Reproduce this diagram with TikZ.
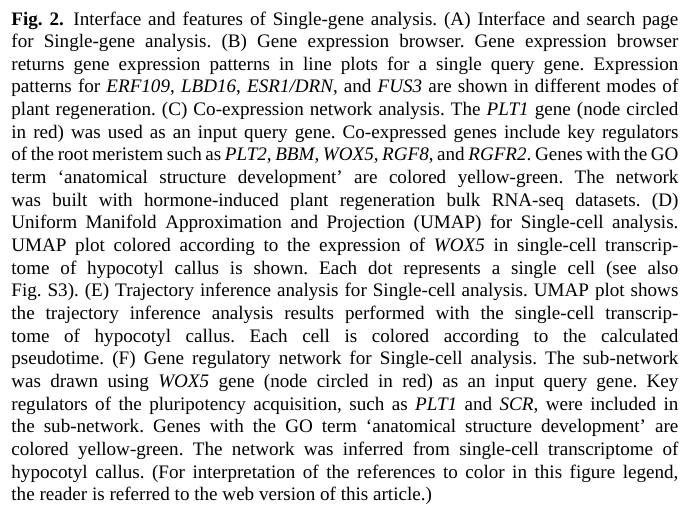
\documentclass[tikz,border=0pt]{standalone}
\usepackage{fontspec}
\setmainfont{Liberation Serif}
\usetikzlibrary{positioning}

\tikzset{
  captext/.style={anchor=base west,inner sep=0pt,text width=333.5pt,align=justify,
    font=\fontsize{9.55pt}{11.33pt}\selectfont}
}

\begin{document}
\begin{tikzpicture}
  \hbadness=10000 \frenchspacing
  \useasboundingbox[fill=white] (0,0) rectangle (341.5pt,255.5pt);
  \node[captext] (caption) at (5.5pt,243pt) {%
    \textbf{Fig. 2.}\enspace Interface and features of Single-gene analysis. (A) Interface and search page\linebreak
    for Single-gene analysis. (B) Gene expression browser. Gene expression browser\linebreak
    returns gene expression patterns in line plots for a single query gene. Expression\linebreak
    patterns for \textit{ERF109}, \textit{LBD16}, \textit{ESR1/DRN}, and \textit{FUS3} are shown in different modes of\linebreak
    plant regeneration. (C) Co-expression network analysis. The \textit{PLT1} gene (node circled\linebreak
    in red) was used as an input query gene. Co-expressed genes include key regulators\linebreak
    of the root meristem such as \textit{PLT2}, \textit{BBM}, \textit{WOX5}, \textit{RGF8}, and \textit{RGFR2}. Genes with the GO\linebreak
    term ‘anatomical structure development’ are colored yellow-green. The network\linebreak
    was built with hormone-induced plant regeneration bulk RNA-seq datasets. (D)\linebreak
    Uniform Manifold Approximation and Projection (UMAP) for Single-cell analysis.\linebreak
    UMAP plot colored according to the expression of \textit{WOX5} in single-cell transcrip-\linebreak
    tome of hypocotyl callus is shown. Each dot represents a single cell (see also\linebreak
    Fig. S3). (E) Trajectory inference analysis for Single-cell analysis. UMAP plot shows\linebreak
    the trajectory inference analysis results performed with the single-cell transcrip-\linebreak
    tome of hypocotyl callus. Each cell is colored according to the calculated\linebreak
    pseudotime. (F) Gene regulatory network for Single-cell analysis. The sub-network\linebreak
    was drawn using \textit{WOX5} gene (node circled in red) as an input query gene. Key\linebreak
    regulators of the pluripotency acquisition, such as \textit{PLT1} and \textit{SCR}, were included in\linebreak
    the sub-network. Genes with the GO term ‘anatomical structure development’ are\linebreak
    colored yellow-green. The network was inferred from single-cell transcriptome of\linebreak
    hypocotyl callus. (For interpretation of the references to color in this figure legend,\linebreak
    the reader is referred to the web version of this article.)};
\end{tikzpicture}
\end{document}
